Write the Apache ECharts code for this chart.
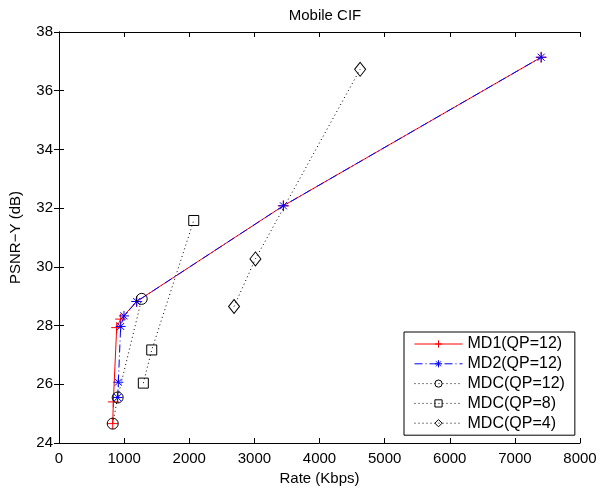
<!DOCTYPE html>
<html><head><meta charset="utf-8">
<script src="https://cdn.jsdelivr.net/npm/echarts@6/dist/echarts.min.js"></script>
<style>html,body{margin:0;padding:0;background:#fff}#c{width:600px;height:491px}</style>
</head><body><div id="c"></div>
<script>
const xTicks = [0,1000,2000,3000,4000,5000,6000,7000,8000];
const yTicks = [24,26,28,30,32,34,36,38];
const seriesNames = ['MD1(QP=12)','MD2(QP=12)','MDC(QP=12)','MDC(QP=8)','MDC(QP=4)'];
const rateMD1 = [825, 834, 886, 947, 1193, 3445, 7404];
const psnrMD1 = [24.66, 25.40, 27.93, 28.22, 28.82, 32.08, 37.14];
const rateMD2 = [901, 911, 947, 998, 1193, 3445, 7404];
const psnrMD2 = [25.55, 26.07, 27.97, 28.33, 28.82, 32.08, 37.14];
const rateMDC12 = [825, 901, 1270];
const psnrMDC12 = [24.66, 25.55, 28.91];
const rateMDC8 = [1295, 1424, 2069];
const psnrMDC8 = [26.04, 27.17, 31.58];
const rateMDC4 = [2688, 3016, 4624];
const psnrMDC4 = [28.65, 30.27, 36.73];

const zip = (a,b) => a.map((v,i)=>[v,b[i]]);
const FONT = 'Liberation Sans';
const plus = 'path://M0,-1L0,1M-1,0L1,0';
const star = 'path://M0,-1L0,1M-1,0L1,0M-0.7,-0.7L0.7,0.7M-0.7,0.7L0.7,-0.7';

function lineSeries(name, data, color, lineType, symbol, size, width){
  return {
    name, type:'line', data, xAxisIndex:0, yAxisIndex:0,
    symbol, symbolSize:size, showSymbol:true, animation:false,
    lineStyle:{color, width, type:lineType},
    itemStyle:{color:'rgba(0,0,0,0)', borderColor:color, borderWidth:1},
    emphasis:{disabled:true}, z: 3
  };
}

const chart = echarts.init(document.getElementById('c'), null, {renderer:'canvas'});
const axisCommon = {
  min:0, max:8000, interval:1000,
  axisLine:{show:true, lineStyle:{color:'#000', width:1}},
  axisTick:{show:true, inside:true, length:5, lineStyle:{color:'#000'}},
  splitLine:{show:false}
};
chart.setOption({
  backgroundColor:'#fff',
  animation:false,
  title:{text:'Mobile CIF', left:320, textAlign:'center', top:3,
    textStyle:{fontFamily:FONT, fontSize:15, fontWeight:'normal', color:'#000'}},
  grid:{left:59, right:20, top:32, bottom:48},
  legend:{
    orient:'vertical', left:404, top:332,
    data:seriesNames,
    itemWidth:48, itemHeight:9, itemGap:3.8,
    padding:[4,10,4,10],
    borderColor:'#000', borderWidth:1, backgroundColor:'#fff',
    itemStyle:{borderWidth:1},
    lineStyle:{width:1},
    textStyle:{fontFamily:FONT, fontSize:16, color:'#000'}
  },
  xAxis:[
    Object.assign({}, axisCommon, {type:'value', position:'bottom',
      name:'Rate (Kbps)', nameLocation:'middle', nameGap:28,
      nameTextStyle:{fontFamily:FONT, fontSize:15, color:'#000'},
      axisLabel:{fontFamily:FONT, fontSize:15, color:'#000', margin:8,
        formatter:v=>xTicks.includes(v)?String(v):''}}),
    Object.assign({}, axisCommon, {type:'value', position:'top', axisLabel:{show:false}})
  ],
  yAxis:[
    Object.assign({}, axisCommon, {type:'value', min:24, max:38, interval:2, position:'left',
      name:'PSNR\u2212Y (dB)', nameLocation:'middle', nameGap:36,
      nameTextStyle:{fontFamily:FONT, fontSize:15, color:'#000'},
      axisLabel:{fontFamily:FONT, fontSize:15, color:'#000', margin:6,
        formatter:v=>yTicks.includes(v)?String(v):''}}),
    Object.assign({}, axisCommon, {type:'value', min:24, max:38, interval:2, position:'right', axisLabel:{show:false}})
  ],
  series:[
    lineSeries(seriesNames[0], zip(rateMD1, psnrMD1), '#ff0000', 'solid', plus, 11, 1),
    lineSeries(seriesNames[1], zip(rateMD2, psnrMD2), '#0000ff', [8,3,1,3], star, 10, 1),
    lineSeries(seriesNames[2], zip(rateMDC12, psnrMDC12), '#000000', [1,3], 'circle', 11, 1),
    lineSeries(seriesNames[3], zip(rateMDC8, psnrMDC8), '#000000', [1,3], 'rect', 10, 1),
    lineSeries(seriesNames[4], zip(rateMDC4, psnrMDC4), '#000000', [1,3], 'diamond', [11,14], 1)
  ]
});
</script></body></html>
